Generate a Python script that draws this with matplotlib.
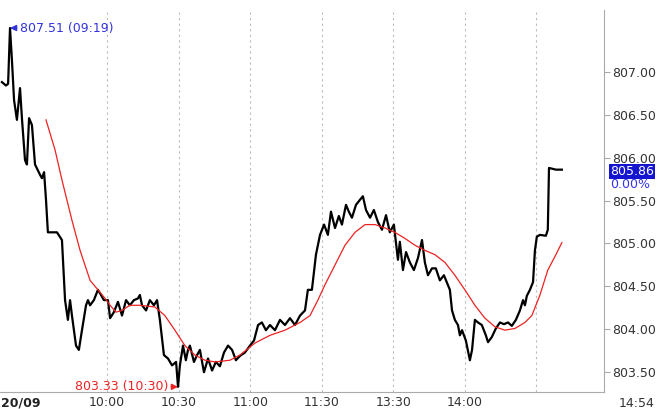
import matplotlib.pyplot as plt

# minutes since 09:15 (lunch 12:00-13:30 removed) and price
t = [0.8,2.5,3.4,4.2,5.0,5.9,7.1,8.4,9.2,10.5,11.3,12.2,13.4,14.7,16.8,17.6,18.5,19.3,20.1,21.8,23.9,26.0,27.3,28.5,29.4,30.2,31.9,33.1,34.4,36.1,36.9,37.8,39.4,41.1,42.4,43.6,45.3,46.2,47.8,49.5,51.2,52.9,54.5,56.2,57.9,58.7,59.6,61.3,62.9,64.6,65.9,67.1,68.8,70.5,72.2,73.9,74.7,75.5,76.8,78.0,78.9,79.7,81.4,82.7,83.9,85.6,87.3,89.0,90.6,92.3,94.0,95.7,97.4,99.0,100.7,102.8,104.9,106.6,108.3,109.9,111.6,113.3,115.4,117.5,119.6,121.7,123.8,125.9,128.0,129.2,130.9,132.6,134.3,136.0,137.6,138.9,140.6,142.2,143.5,145.2,146.4,147.7,149.4,151.1,152.3,153.6,155.3,156.9,158.6,160.3,162.0,163.6,165.3,167.0,167.8,169.1,170.4,172.0,173.7,175.4,177.1,178.3,179.6,181.3,182.9,184.6,186.3,188.8,189.7,190.9,192.2,193.0,193.9,195.5,197.2,198.1,199.3,200.6,202.2,203.9,204.8,206.4,208.1,209.8,211.5,213.2,214.8,216.5,218.2,219.5,220.3,221.1,222.4,223.7,224.5,225.3,226.6,229.1,229.9,230.4,233.3,235.8]
price = [806.88,806.84,806.86,807.51,807.14,806.67,806.44,806.81,806.46,805.97,805.92,806.46,806.38,805.92,805.80,805.76,805.83,805.51,805.13,805.13,805.13,805.04,804.34,804.11,804.34,804.16,803.81,803.76,803.99,804.28,804.34,804.28,804.34,804.46,804.40,804.34,804.34,804.13,804.20,804.32,804.16,804.34,804.28,804.34,804.36,804.40,804.28,804.22,804.34,804.28,804.34,804.11,803.70,803.66,803.58,803.62,803.33,803.58,803.81,803.64,803.76,803.81,803.62,803.70,803.76,803.50,803.66,803.52,803.62,803.57,803.73,803.81,803.76,803.64,803.69,803.73,803.81,803.87,804.05,804.08,803.99,804.05,803.99,804.11,804.05,804.13,804.05,804.16,804.22,804.46,804.46,804.87,805.10,805.22,805.10,805.37,805.18,805.32,805.22,805.45,805.37,805.30,805.45,805.51,805.55,805.39,805.30,805.39,805.25,805.16,805.33,805.13,805.22,804.81,805.02,804.69,804.90,804.78,804.69,804.83,805.04,804.78,804.63,804.71,804.71,804.57,804.63,804.46,804.22,804.11,804.05,803.93,803.99,803.87,803.64,803.76,804.11,804.08,804.05,803.93,803.85,803.91,804.01,804.08,804.06,804.08,804.04,804.11,804.22,804.34,804.28,804.39,804.46,804.55,804.92,805.08,805.10,805.09,805.16,805.88,805.86,805.86]

ma_t = [19.3,23.1,26.0,30.2,33.6,37.8,41.1,44.1,46.2,48.7,51.2,54.5,58.7,65.0,69.2,73.4,77.6,81.8,86.0,90.2,96.5,100.7,107.0,113.3,119.6,125.9,130.1,133.4,136.4,140.6,144.8,149.0,153.2,157.4,161.6,165.7,169.9,174.1,178.3,182.5,186.7,190.9,195.1,199.3,203.5,207.7,211.9,216.1,220.3,223.2,226.6,229.9,233.3,235.8]
ma = [806.44,806.09,805.74,805.27,804.92,804.57,804.46,804.36,804.28,804.20,804.22,804.28,804.28,804.26,804.16,803.99,803.81,803.70,803.64,803.62,803.64,803.70,803.84,803.93,803.99,804.08,804.16,804.34,804.52,804.75,804.98,805.13,805.22,805.22,805.18,805.13,805.06,804.98,804.92,804.87,804.78,804.63,804.46,804.28,804.13,804.03,803.99,804.01,804.08,804.16,804.40,804.69,804.87,805.01]

grid_t = [45, 75, 105, 135, 165, 195, 225]
tick_labels = ['10:00', '10:30', '11:00', '11:30', '13:30', '14:00', '']
y_ticks = [803.5, 804.0, 804.5, 805.0, 805.5, 806.0, 806.5, 807.0]
last = 805.86

fig = plt.figure(figsize=(6.58, 4.09), dpi=100)
ax = fig.add_axes([0, 0.0416, 0.918, 0.934])
ax.set_xlim(0, 253.5)
ax.set_ylim(803.27, 807.72)

for g in grid_t:
    ax.axvline(g, color='#bbbbbb', lw=0.8, ls=(0, (2, 3)), zorder=0)

ax.plot(t, price, color='black', lw=1.6)
ax.plot(ma_t, ma, color='#ee2222', lw=0.9)

for s in ['left', 'top']:
    ax.spines[s].set_visible(False)
ax.spines['right'].set_color('#aaaaaa')
ax.spines['bottom'].set_color('#aaaaaa')

ax.yaxis.tick_right()
ax.set_yticks(y_ticks)
ax.set_yticklabels(['%.2f' % v for v in y_ticks], fontsize=9, color='#333333')
ax.tick_params(axis='y', length=4, color='#aaaaaa', pad=2)
ax.set_xticks(grid_t)
ax.set_xticklabels(tick_labels, fontsize=9, color='#333333')
ax.tick_params(axis='x', length=0, pad=3)

ax.text(0.002, -0.012, '20/09', transform=ax.transAxes, fontsize=9, fontweight='bold',
        color='#222222', va='top', ha='left')
ax.text(1.025, -0.012, '14:54', transform=ax.transAxes, fontsize=9, color='#333333',
        va='top', ha='left')

# last value box
ax.text(1.01, last - 0.02, '%.2f' % last, transform=ax.get_yaxis_transform(), fontsize=9,
        color='white', va='center', ha='left', zorder=5,
        bbox=dict(boxstyle='square,pad=0.1', fc='#1515d0', ec='none'))
ax.text(1.01, last - 0.17, '0.00%', transform=ax.get_yaxis_transform(), fontsize=9,
        color='#3333ee', va='center', ha='left')

# high / low annotations
hi_i = price.index(max(price))
lo_i = price.index(min(price))
ax.annotate('%.2f (09:19)' % price[hi_i], xy=(t[hi_i], price[hi_i]), xytext=(t[hi_i] + 4, price[hi_i]),
            fontsize=9, color='#3333dd', va='center',
            arrowprops=dict(arrowstyle='-|>', color='#3333dd', lw=1, shrinkA=0, shrinkB=0))
ax.annotate('%.2f (10:30)' % price[lo_i], xy=(t[lo_i], price[lo_i]), xytext=(t[lo_i] - 4, price[lo_i]),
            fontsize=9, color='#ee2222', va='center', ha='right',
            arrowprops=dict(arrowstyle='-|>', color='#ee2222', lw=1, shrinkA=0, shrinkB=0))

fig.savefig('out.png', dpi=100)
